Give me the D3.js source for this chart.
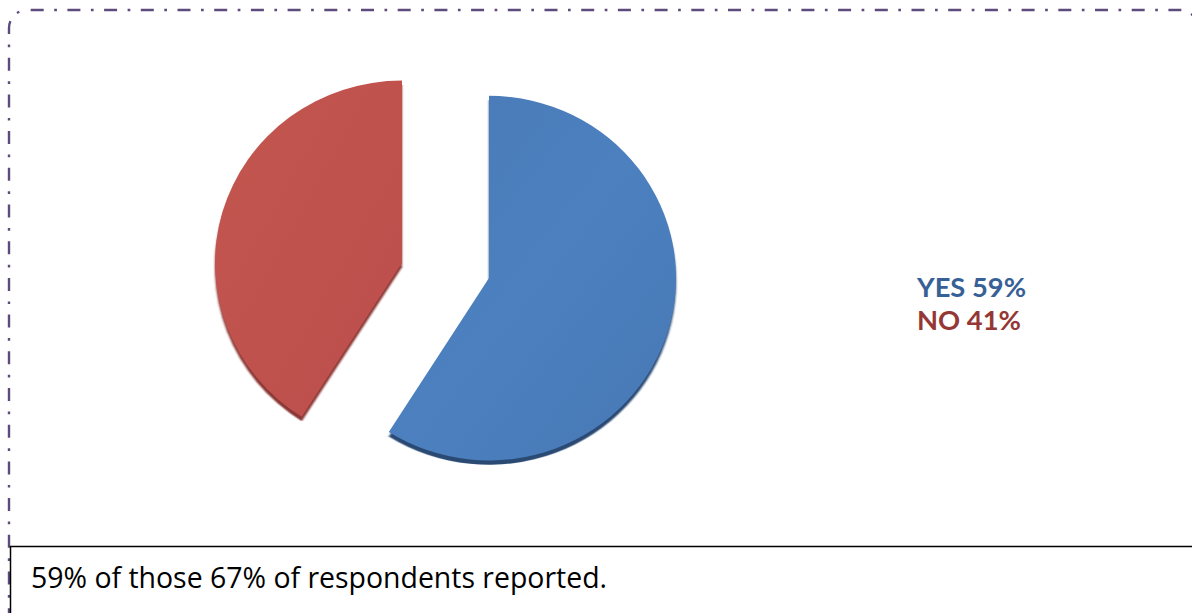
<!DOCTYPE html>
<html>
<head>
<meta charset="utf-8">
<script src="https://cdn.jsdelivr.net/npm/d3@7"></script>
<style>
  html, body { margin: 0; padding: 0; background: #ffffff; }
  svg { display: block; }
</style>
</head>
<body>
<svg id="chart" width="1192" height="613"></svg>
<script>
// ---- data ----
const categories = ["YES", "NO"];
const values = [59, 41];
const legendLabels = ["YES 59%", "NO 41%"];
const caption = "59% of those 67% of respondents reported.";

// ---- styles ----
const sliceColors = { YES: ["#4a7ab6", "#4c80bf", "#4778b5"], NO: ["#c4564f", "#c0524e", "#bb4f4b"] };
const rimColors = { YES: "#2a4a73", NO: "#8a3835" };
const legendColors = { YES: "#376196", NO: "#953735" };

const svg = d3.select("#chart");
const W = 1192, H = 613;
svg.append("rect").attr("width", W).attr("height", H).attr("fill", "#fff");

const defs = svg.append("defs");
categories.forEach(c => {
  const g = defs.append("linearGradient").attr("id", "grad" + c)
    .attr("x1", "0%").attr("y1", "0%").attr("x2", "100%").attr("y2", "100%");
  g.append("stop").attr("offset", "0%").attr("stop-color", sliceColors[c][0]);
  g.append("stop").attr("offset", "50%").attr("stop-color", sliceColors[c][1]);
  g.append("stop").attr("offset", "100%").attr("stop-color", sliceColors[c][2]);
});
defs.append("filter").attr("id", "soft").append("feGaussianBlur").attr("stdDeviation", 0.8);

// ---- dash-dot border ----
const purple = "#5e4b7e";
const r = 18, bx = 9, by = 10, bRight = 1198;
const dash = "13,10.5,2.7,10.5";
svg.append("path")
  .attr("d", `M${bx + r},${by} A${r},${r} 0 0 0 ${bx},${by + r} L${bx},${H + 20}`)
  .attr("fill", "none").attr("stroke", purple).attr("stroke-width", 2.4)
  .attr("stroke-dasharray", dash).attr("stroke-dashoffset", 15.6);
svg.append("path")
  .attr("d", `M${bx + r},${by} L${bRight - r},${by} A${r},${r} 0 0 1 ${bRight},${by + r} L${bRight},${H + 20}`)
  .attr("fill", "none").attr("stroke", purple).attr("stroke-width", 2.4)
  .attr("stroke-dasharray", dash).attr("stroke-dashoffset", 33);

// ---- pie ----
const R = 187, ky = 0.975;
const cx = 445.5, cy = 270.5, explode = 45.3;
const pie = d3.pie().sort(null).startAngle(0).endAngle(2 * Math.PI);
const arcs = pie(values);
const arc = d3.arc().innerRadius(0).outerRadius(R);

arcs.forEach((a, i) => {
  const c = categories[i];
  const mid = (a.startAngle + a.endAngle) / 2;
  const dx = Math.sin(mid) * explode;
  const dy = -Math.cos(mid) * explode * 0.6;
  const g = svg.append("g")
    .attr("transform", `translate(${cx + dx},${cy + dy}) scale(1,${ky})`);
  g.append("path").attr("d", arc(a))
    .attr("transform", "translate(0,4.5)")
    .attr("fill", rimColors[c]).attr("filter", "url(#soft)");
  g.append("path").attr("d", arc(a)).attr("fill", `url(#grad${c})`);
});

// ---- legend ----
const legendY = [297, 330];
legendLabels.forEach((t, i) => {
  svg.append("text")
    .attr("x", 917).attr("y", legendY[i])
    .attr("font-family", "Lato, sans-serif")
    .attr("font-weight", 700).attr("font-size", 27)
    .attr("fill", legendColors[categories[i]])
    .attr("textLength", i === 0 ? 109 : 104)
    .attr("lengthAdjust", "spacingAndGlyphs")
    .text(t);
});

// ---- caption box ----
svg.append("line").attr("x1", 10).attr("x2", W).attr("y1", 546.5).attr("y2", 546.5)
  .attr("stroke", "#000").attr("stroke-width", 1.6);
svg.append("line").attr("x1", 10.5).attr("x2", 10.5).attr("y1", 546).attr("y2", H)
  .attr("stroke", "#000").attr("stroke-width", 1.5);
svg.append("text")
  .attr("x", 31).attr("y", 588)
  .attr("font-family", "'Open Sans', sans-serif")
  .attr("font-size", 29.5).attr("fill", "#000")
  .attr("textLength", 576).attr("lengthAdjust", "spacingAndGlyphs")
  .text(caption);
</script>
</body>
</html>
